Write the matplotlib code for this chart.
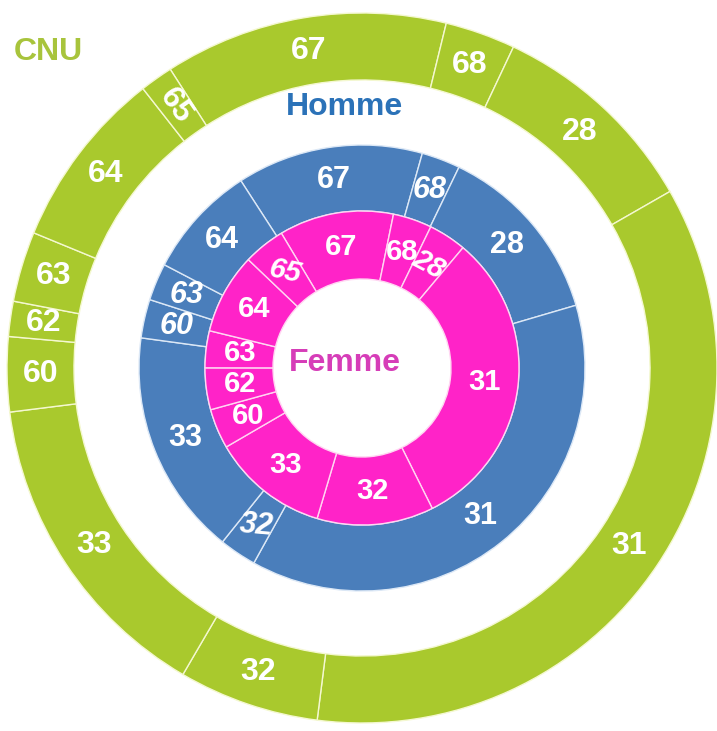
import matplotlib
matplotlib.use("Agg")
import matplotlib.pyplot as plt
import numpy as np

plt.rcParams["font.family"] = ["Liberation Sans", "DejaVu Sans"]

# ---------------------------------------------------------------------------
# Data (share of each section, in % of the ring)
# ---------------------------------------------------------------------------
cnu_labels = ["67", "68", "28", "31", "32", "33", "60", "62", "63", "64", "65"]
cnu_values = [12.9, 3.2, 9.7, 35.3, 6.4, 14.6, 3.4, 1.6, 3.2, 8.2, 1.5]

homme_labels = ["67", "68", "28", "31", "32", "33", "60", "63", "64"]
homme_values = [13.5, 2.8, 13.3, 37.6, 2.7, 16.4, 2.8, 2.7, 8.2]

femme_labels = ["67", "68", "28", "31", "32", "33", "60", "62", "63", "64", "65"]
femme_values = [11.8, 4.0, 3.9, 31.5, 12.0, 12.0, 4.1, 4.3, 3.8, 8.3, 4.3]

GREEN = "#A9C92D"
BLUE = "#4A7EBB"
PINK = "#FF23C8"

fig = plt.figure(figsize=(7.17, 7.31), dpi=100)
ax = fig.add_axes([0, 0, 1, 1])


def ring(values, labels, radius, width, color, edge, start, fsize, styles):
    wedges, _ = ax.pie(values, radius=radius, startangle=start,
                       counterclock=False, colors=[color] * len(values),
                       wedgeprops=dict(width=width, edgecolor=edge,
                                       linewidth=1.0))
    for w, lab in zip(wedges, labels):
        mid = np.radians((w.theta1 + w.theta2) / 2)
        r = radius - width / 2
        rot, ital = styles.get(lab, (0, False))
        ax.text(r * np.cos(mid), r * np.sin(mid), lab, ha="center",
                va="center", color="white", fontsize=fsize, fontweight="bold",
                rotation=rot, fontstyle="italic" if ital else "normal")


ring(cnu_values, cnu_labels, 355, 67, GREEN, "#F4F8D0", 122.7, 23,
     {"65": (-55, False)})
ring(homme_values, homme_labels, 223, 66, BLUE, "#DCE8F6", 122.9, 22,
     {"63": (0, True), "60": (0, True), "32": (-5, True), "68": (0, True)})
ring(femme_values, femme_labels, 157, 68, PINK, "#FFD6F2", 120.9, 21,
     {"65": (-12, True), "28": (-28, True)})

ax.text(-314, 316, "CNU", ha="center", va="center", color="#A8C43C",
        fontsize=23, fontweight="bold")
ax.text(-17, 261, "Homme", ha="center", va="center", color="#2B72B8",
        fontsize=23, fontweight="bold")
ax.text(-17, 5, "Femme", ha="center", va="center", color="#D63DB8",
        fontsize=23, fontweight="bold")

ax.set_aspect("equal")
ax.set_xlim(-362, 355)
ax.set_ylim(-363, 368)
ax.axis("off")

fig.savefig("out.png", dpi=100)
